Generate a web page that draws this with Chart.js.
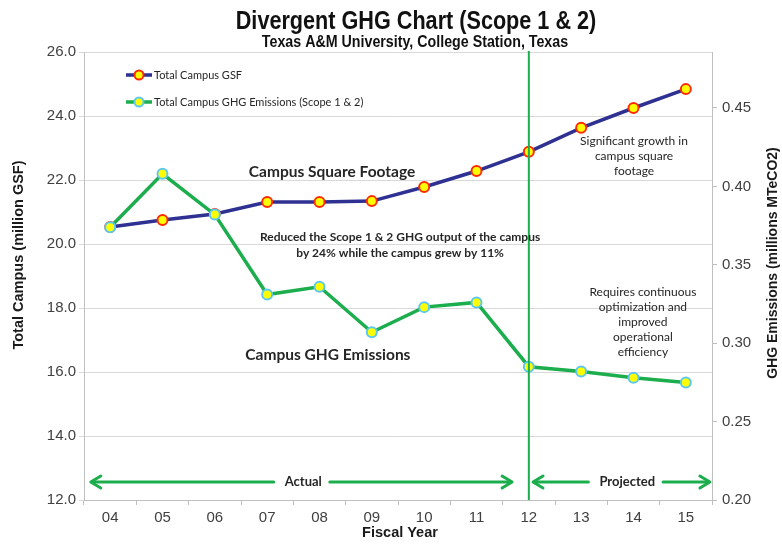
<!DOCTYPE html>
<html>
<head>
<meta charset="utf-8">
<title>Divergent GHG Chart</title>
<script src="https://cdn.jsdelivr.net/npm/chart.js@4.4.1/dist/chart.umd.min.js"></script>
<style>
  body { margin: 0; background: #fff; }
  canvas { display: block; }
</style>
</head>
<body>
<canvas id="myChart" width="782" height="546"></canvas>
<script>
let fiscalYears = ["04", "05", "06", "07", "08", "09", "10", "11", "12", "13", "14", "15"];
let campusGsf = [20.53, 20.75, 20.94, 21.31, 21.31, 21.34, 21.78, 22.28, 22.88, 23.63, 24.25, 24.84];
let campusGhg = [0.374, 0.408, 0.382, 0.331, 0.336, 0.307, 0.323, 0.326, 0.285, 0.282, 0.278, 0.275];
let gsfTicks = [12, 14, 16, 18, 20, 22, 24, 26];
let ghgTicks = [0.20, 0.25, 0.30, 0.35, 0.40, 0.45];
let splitYear = "12";

let titulo = "Divergent GHG Chart (Scope 1 & 2)";
let subtitulo = "Texas A&M University, College Station, Texas";

let azul = "#2e3192";
let verde = "#1cad4c";
let gris = "#d9d9d9";
let texto = "#262626";
let fuenteNotas = "Lato, 'Open Sans', sans-serif";
let fuenteEjes = "'Liberation Sans', Arial, sans-serif";

// notas: x = indice de categoria, y = valor del eje izquierdo
let notas = [
  { lineas: ["Campus Square Footage"], x: 4.24, y: 22.25, font: "bold 15.5px " + fuenteNotas, alto: 16 },
  { lineas: ["Reduced the Scope 1 & 2 GHG output of the campus", "by 24% while the campus grew by 11%"], x: 5.54, y: 20.22, font: "bold 12px " + fuenteNotas, alto: 16 },
  { lineas: ["Campus GHG Emissions"], x: 4.16, y: 16.53, font: "bold 15.5px " + fuenteNotas, alto: 16 },
  { lineas: ["Significant growth in", "campus square", "footage"], x: 10.01, y: 23.22, font: "12px " + fuenteNotas, alto: 15 },
  { lineas: ["Requires continuous", "optimization and", "improved", "operational", "efficiency"], x: 10.18, y: 18.5, font: "12px " + fuenteNotas, alto: 15 }
];

// flechas: desde, hasta, centro del texto (indices de categoria)
let flechas = [
  { desde: -0.37, hasta: 7.68, centro: 3.69, label: "Actual" },
  { desde: 8.08, hasta: 11.46, centro: 9.88, label: "Projected" }
];
let alturaFlechas = 12.56;

let myChart = document.querySelector("#myChart");

function punta(ctx, x, y, dir) {
  ctx.beginPath();
  ctx.moveTo(x - dir * 10, y - 6);
  ctx.lineTo(x, y);
  ctx.lineTo(x - dir * 10, y + 6);
  ctx.stroke();
}

function textoAngosto(ctx, t, x, y, escala) {
  ctx.save();
  ctx.translate(x, y);
  ctx.scale(escala, 1);
  ctx.fillText(t, 0, 0);
  ctx.restore();
}

const anotaciones = {
  id: "anotaciones",
  afterDatasetsDraw(chart) {
    const ctx = chart.ctx;
    const xs = chart.scales.x;
    const ys = chart.scales.y;
    const area = chart.chartArea;

    ctx.save();

    // linea vertical en el año de corte
    let xCorte = xs.getPixelForValue(fiscalYears.indexOf(splitYear));
    ctx.strokeStyle = verde;
    ctx.lineWidth = 2;
    ctx.beginPath();
    ctx.moveTo(xCorte, area.top - 1);
    ctx.lineTo(xCorte, area.bottom);
    ctx.stroke();

    // notas de texto
    ctx.fillStyle = texto;
    ctx.textAlign = "center";
    ctx.textBaseline = "middle";
    for (const nota of notas) {
      ctx.font = nota.font;
      let px = xs.getPixelForValue(nota.x);
      let py = ys.getPixelForValue(nota.y);
      nota.lineas.forEach((l, i) => ctx.fillText(l, px, py + i * nota.alto));
    }

    // flechas Actual / Projected
    let fy = ys.getPixelForValue(alturaFlechas);
    ctx.font = "bold 13px " + fuenteNotas;
    ctx.strokeStyle = verde;
    ctx.lineWidth = 3;
    ctx.lineCap = "round";
    ctx.lineJoin = "round";
    for (const f of flechas) {
      let x0 = xs.getPixelForValue(f.desde);
      let x1 = xs.getPixelForValue(f.hasta);
      let xc = xs.getPixelForValue(f.centro);
      let w = ctx.measureText(f.label).width;
      ctx.beginPath();
      ctx.moveTo(x0 + 1, fy);
      ctx.lineTo(xc - w / 2 - 11, fy);
      ctx.moveTo(xc + w / 2 + 8, fy);
      ctx.lineTo(x1 - 1, fy);
      ctx.stroke();
      punta(ctx, x0, fy, -1);
      punta(ctx, x1, fy, 1);
      ctx.fillText(f.label, xc, fy);
    }

    // leyenda
    let series = chart.data.datasets;
    ctx.font = "11px " + fuenteNotas;
    ctx.textAlign = "left";
    series.slice().sort((a, b) => a.leyenda - b.leyenda).forEach((ds, i) => {
      let ly = area.top + 23 + i * 27;
      let lx = area.left + 42;
      ctx.strokeStyle = ds.borderColor;
      ctx.lineWidth = 3.5;
      ctx.lineCap = "butt";
      ctx.beginPath();
      ctx.moveTo(lx, ly);
      ctx.lineTo(lx + 26, ly);
      ctx.stroke();
      ctx.beginPath();
      ctx.arc(lx + 13, ly, 4.5, 0, Math.PI * 2);
      ctx.fillStyle = ds.pointBackgroundColor;
      ctx.fill();
      ctx.lineWidth = 2;
      ctx.strokeStyle = ds.pointBorderColor;
      ctx.stroke();
      ctx.fillStyle = texto;
      ctx.fillText(ds.label, lx + 28, ly);
    });

    ctx.restore();
  },
  afterDraw(chart) {
    const ctx = chart.ctx;
    const area = chart.chartArea;
    let medio = (area.top + area.bottom) / 2;
    ctx.save();
    ctx.fillStyle = "#111";
    ctx.textAlign = "center";
    ctx.textBaseline = "middle";

    // titulo y subtitulo (letra angosta)
    ctx.font = "bold 25px " + fuenteEjes;
    textoAngosto(ctx, titulo, 416, 22, 0.865);
    ctx.font = "bold 16px " + fuenteEjes;
    textoAngosto(ctx, subtitulo, 415, 43, 0.89);

    ctx.fillStyle = "#1a1a1a";
    ctx.font = "bold 14.5px " + fuenteEjes;
    ctx.fillText("Fiscal Year", (area.left + area.right) / 2 + 2, chart.height - 13);

    ctx.save();
    ctx.translate(19, medio - 21);
    ctx.rotate(-Math.PI / 2);
    ctx.fillText("Total Campus (million GSF)", 0, 0);
    ctx.restore();

    ctx.save();
    ctx.font = "bold 14px " + fuenteEjes;
    ctx.translate(chart.width - 9, medio - 13);
    ctx.rotate(-Math.PI / 2);
    ctx.fillText("GHG Emissions (millions MTeCO2)", 0, 0);
    ctx.restore();

    ctx.restore();
  }
};

const datasets = [
  {
    label: "Total Campus GSF",
    data: campusGsf,
    yAxisID: "y",
    borderColor: azul,
    borderWidth: 3.5,
    pointBackgroundColor: "#ffff00",
    pointBorderColor: "#ff2a00",
    pointBorderWidth: 2,
    pointRadius: 5,
    order: 2,
    leyenda: 0
  },
  {
    label: "Total Campus GHG Emissions (Scope 1 & 2)",
    data: campusGhg,
    yAxisID: "y2",
    borderColor: verde,
    borderWidth: 3.5,
    pointBackgroundColor: "#ffff00",
    pointBorderColor: "#5cc8ef",
    pointBorderWidth: 2,
    pointRadius: 5,
    order: 1,
    leyenda: 1
  }
];

const conf = {
  type: "line",
  data: {
    labels: fiscalYears,
    datasets
  },
  options: {
    responsive: false,
    animation: false,
    devicePixelRatio: 1,
    events: [],
    layout: { padding: { top: 52 } },
    plugins: {
      legend: { display: false },
      tooltip: { enabled: false },
      title: { display: false }
    },
    scales: {
      x: {
        type: "category",
        offset: true,
        grid: { offset: true, drawOnChartArea: false, drawTicks: true, tickLength: 5, color: "#bfbfbf" },
        border: { color: "#bfbfbf" },
        ticks: { color: "#404040", font: { family: fuenteEjes, size: 15 }, padding: 4, maxRotation: 0 },
        afterFit: s => { s.height = 46; }
      },
      y: {
        position: "left",
        min: 12,
        max: 26,
        grid: { color: gris, tickLength: 5 },
        border: { color: "#bfbfbf" },
        ticks: { color: "#404040", font: { family: fuenteEjes, size: 15 }, padding: 3, callback: v => v.toFixed(1) },
        afterBuildTicks: s => { s.ticks = gsfTicks.map(v => ({ value: v })); },
        afterFit: s => { s.width = 84; }
      },
      y2: {
        position: "right",
        min: 0.2,
        max: 0.4857,
        grid: { drawOnChartArea: false, color: "#bfbfbf", tickLength: 5 },
        border: { color: "#bfbfbf" },
        ticks: { color: "#404040", font: { family: fuenteEjes, size: 15 }, padding: 5, callback: v => v.toFixed(2) },
        afterBuildTicks: s => { s.ticks = ghgTicks.map(v => ({ value: v })); },
        afterFit: s => { s.width = 70; }
      }
    }
  },
  plugins: [anotaciones]
};

let grafico = new Chart(myChart, conf);
</script>
</body>
</html>
